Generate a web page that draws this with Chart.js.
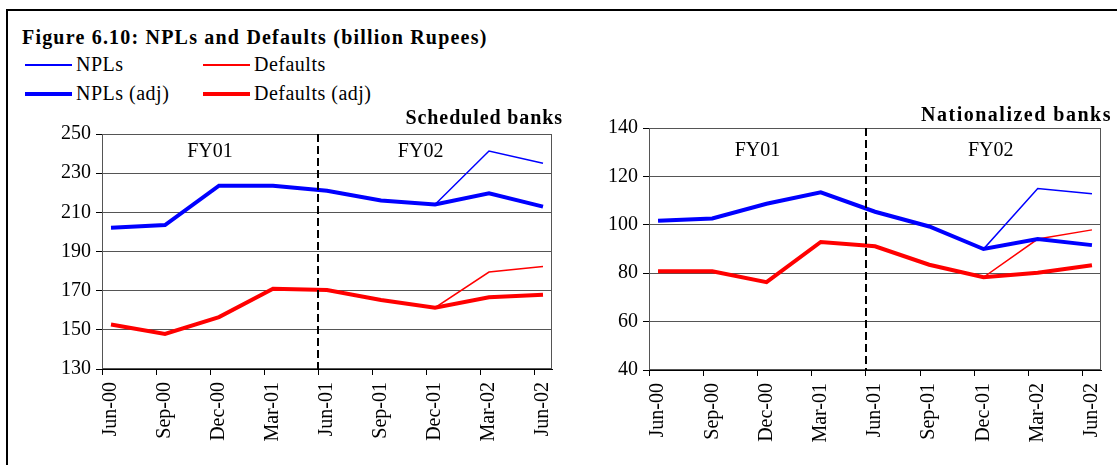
<!DOCTYPE html>
<html>
<head>
<meta charset="utf-8">
<title>NPLs and Defaults</title>
<script src="https://cdn.jsdelivr.net/npm/chart.js@4.4.0/dist/chart.umd.min.js"></script>
<style>
  html, body { margin: 0; padding: 0; background: #fff; }
  #page { position: relative; width: 1117px; height: 465px; overflow: hidden;
          font-family: "Liberation Serif", "Times New Roman", serif; color: #000; }
  #frame { position: absolute; left: 6px; top: 9px; width: 1200px; height: 600px;
           border: 2px solid #000; }
  #title { position: absolute; left: 22px; top: 27px; font-size: 20px; line-height: 20px;
           font-weight: bold; letter-spacing: 1.2px; white-space: nowrap; }
  .leg { position: absolute; font-size: 20px; line-height: 20px; letter-spacing: 0.5px;
         white-space: nowrap; }
  .leg .swatch { position: absolute; left: 0; width: 47px; }
  canvas { position: absolute; top: 0; }
</style>
</head>
<body>
<div id="page">
  <div id="frame"></div>
  <div id="title">Figure 6.10: NPLs and Defaults (billion Rupees)</div>
  <div id="legend"></div>
  <canvas id="schedChart" width="566" height="465" style="left:0"></canvas>
  <canvas id="natChart" width="551" height="465" style="left:566px"></canvas>
</div>
<script>
// ----- DATA -----
// monthly slots on the date axis, quarterly observations
const months = ['Jun-00', 'Jul-00', 'Aug-00', 'Sep-00', 'Oct-00', 'Nov-00', 'Dec-00',
  'Jan-01', 'Feb-01', 'Mar-01', 'Apr-01', 'May-01', 'Jun-01', 'Jul-01', 'Aug-01',
  'Sep-01', 'Oct-01', 'Nov-01', 'Dec-01', 'Jan-02', 'Feb-02', 'Mar-02', 'Apr-02',
  'May-02', 'Jun-02'];
const quarters = ['Jun-00', 'Sep-00', 'Dec-00', 'Mar-01', 'Jun-01', 'Sep-01', 'Dec-01', 'Mar-02', 'Jun-02'];
const fyLabels = ['FY01', 'FY02'];

// Scheduled banks
const schedNpl = [202.1, 203.5, 223.6, 223.6, 221.0, 216.0, 214.0, 241.3, 235.1];
const schedDef = [152.7, 147.9, 156.5, 171.0, 170.3, 165.2, 161.3, 179.5, 182.4];
const schedNplAdj = [202.1, 203.5, 223.6, 223.6, 221.0, 216.0, 214.0, 219.7, 212.9];
const schedDefAdj = [152.7, 147.9, 156.5, 171.0, 170.3, 165.2, 161.3, 166.6, 167.9];
const schedYTicks = [130, 150, 170, 190, 210, 230, 250];

// Nationalized banks
const natNpl = [101.7, 102.6, 108.7, 113.4, 105.4, 99.3, 90.0, 115.0, 112.8];
const natDef = [80.8, 80.8, 76.3, 92.9, 91.1, 83.5, 78.3, 94.1, 97.9];
const natNplAdj = [101.7, 102.6, 108.7, 113.4, 105.4, 99.3, 90.0, 94.1, 91.6];
const natDefAdj = [80.8, 80.8, 76.3, 92.9, 91.1, 83.5, 78.3, 80.2, 83.3];
const natYTicks = [40, 60, 80, 100, 120, 140];

// ----- STYLES -----
const seriesStyle = [
  { label: 'NPLs', color: '#0000ff', width: 1.5 },
  { label: 'Defaults', color: '#ff0000', width: 1.5 },
  { label: 'NPLs (adj)', color: '#0000ff', width: 4 },
  { label: 'Defaults (adj)', color: '#ff0000', width: 4 }
];
const serif = '"Liberation Serif", "Times New Roman", serif';
Chart.defaults.font.family = serif;
Chart.defaults.color = '#000';

// ----- LEGEND (shared, html) -----
const legendDiv = document.getElementById('legend');
const legendPos = [[25, 54], [203, 54], [25, 83], [203, 83]];
seriesStyle.forEach((s, i) => {
  const item = document.createElement('div');
  item.className = 'leg';
  item.style.left = legendPos[i][0] + 'px';
  item.style.top = legendPos[i][1] + 'px';
  item.style.paddingLeft = '51px';
  item.innerHTML = `<span class="swatch" style="top:${11 - s.width / 2}px;height:${s.width}px;background:${s.color}"></span>${s.label}`;
  legendDiv.appendChild(item);
});

// ----- DECORATION PLUGIN -----
// plot frame, FY divider, FY labels and panel title
const decor = {
  id: 'decor',
  beforeDatasetsDraw(chart) {
    const { ctx, chartArea: a } = chart;
    ctx.save();
    ctx.strokeStyle = '#555';
    ctx.lineWidth = 1;
    ctx.strokeRect(Math.round(a.left) + 0.5, Math.round(a.top) + 0.5,
      Math.round(a.width) - 1, Math.round(a.height) - 1);
    ctx.restore();
  },
  afterDatasetsDraw(chart, args, opts) {
    const { ctx, chartArea: a, scales: { x, y } } = chart;
    ctx.save();
    const split = months.indexOf('Jun-01');
    const xd = Math.round(x.getPixelForValue(split - 0.5));
    ctx.strokeStyle = '#000';
    ctx.lineWidth = 2;
    ctx.setLineDash([8, 4]);
    ctx.beginPath();
    ctx.moveTo(xd, a.top);
    ctx.lineTo(xd, a.bottom);
    ctx.stroke();
    ctx.setLineDash([]);

    ctx.fillStyle = '#000';
    ctx.font = '20px ' + serif;
    ctx.textAlign = 'center';
    ctx.textBaseline = 'alphabetic';
    fyLabels.forEach((t, i) => {
      ctx.fillText(t, x.getPixelForValue(opts.fyAt[i] - 0.5), y.getPixelForValue(opts.fyY));
    });

    ctx.font = 'bold 20px ' + serif;
    ctx.letterSpacing = opts.spacing;
    ctx.textAlign = 'right';
    ctx.fillText(opts.title, a.right + 11, a.top - opts.titleGap);
    ctx.restore();
  }
};

function makeChart(id, title, values, yTicks, box) {
  const datasets = seriesStyle.map((s, i) => ({
    label: s.label,
    data: quarters.map((q, k) => ({ x: q, y: values[i][k] })),
    borderColor: s.color,
    backgroundColor: s.color,
    borderWidth: s.width,
    pointRadius: 0,
    tension: 0,
    order: s.width > 2 ? 0 : 1
  }));

  return new Chart(document.getElementById(id).getContext('2d'), {
    type: 'line',
    data: { labels: months, datasets },
    plugins: [decor],
    options: {
      responsive: false,
      animation: false,
      events: [],
      layout: { padding: { top: box.top, right: box.right, left: 0, bottom: 0 } },
      plugins: {
        legend: { display: false },
        tooltip: { enabled: false },
        decor: { title, fyAt: box.fyAt, fyY: box.fyY, titleGap: box.titleGap, spacing: box.spacing }
      },
      scales: {
        x: {
          type: 'category',
          offset: true,
          grid: {
            offset: true,
            drawOnChartArea: false,
            drawTicks: true,
            tickLength: 6,
            tickColor: c => (c.index % 3 === 0 ? '#000' : 'rgba(0,0,0,0)')
          },
          border: { color: '#000', width: 1 },
          ticks: {
            autoSkip: false,
            minRotation: 90,
            maxRotation: 90,
            padding: 7,
            color: '#000',
            font: { size: 20 },
            callback: (v, i) => (quarters.includes(months[i]) ? months[i] : '')
          },
          afterFit: s => {
            s.height = box.xHeight;
            s.paddingLeft = 0;
            s.paddingRight = 0;
          }
        },
        y: {
          min: yTicks[0],
          max: yTicks[yTicks.length - 1],
          afterBuildTicks: s => { s.ticks = yTicks.map(v => ({ value: v })); },
          grid: { color: '#555', tickColor: '#000', tickLength: 6, drawTicks: true },
          border: { color: '#000', width: 1 },
          ticks: { color: '#000', font: { size: 20 }, padding: 5 },
          afterFit: s => {
            s.width = box.yWidth;
            s.paddingTop = 0;
            s.paddingBottom = 0;
          }
        }
      }
    }
  });
}

// ----- RENDER -----
makeChart('schedChart', 'Scheduled banks',
  [schedNpl, schedDef, schedNplAdj, schedDefAdj], schedYTicks,
  { top: 134, right: 14, yWidth: 102, xHeight: 96, fyAt: [6, 17.7], fyY: 238.3, titleGap: 10, spacing: '0.9px' });

makeChart('natChart', 'Nationalized banks',
  [natNpl, natDef, natNplAdj, natDefAdj], natYTicks,
  { top: 128, right: 16, yWidth: 83, xHeight: 95, fyAt: [6, 18.9], fyY: 128.3, titleGap: 7, spacing: '1.5px' });
</script>
</body>
</html>
